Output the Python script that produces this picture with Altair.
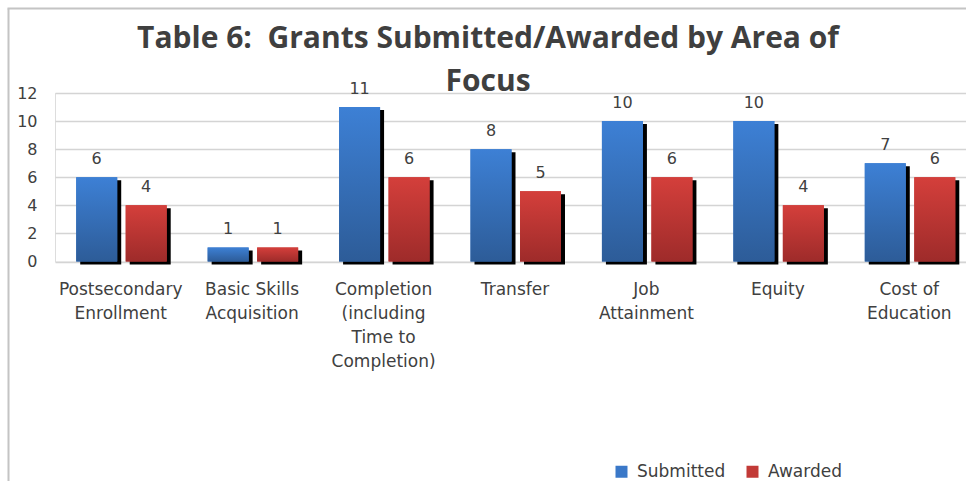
import altair as alt
import pandas as pd

categories = [
    "Postsecondary|Enrollment",
    "Basic Skills|Acquisition",
    "Completion|(including|Time to|Completion)",
    "Transfer",
    "Job|Attainment",
    "Equity",
    "Cost of|Education",
]
submitted = [6, 1, 11, 8, 10, 10, 7]
awarded = [4, 1, 6, 5, 6, 4, 6]
series_names = ["Submitted", "Awarded"]
y_ticks = [0, 2, 4, 6, 8, 10, 12]
title_lines = ["Table 6:\u00a0 Grants Submitted/Awarded by Area of", "Focus"]

rows = []
for c, s, a in zip(categories, submitted, awarded):
    rows.append({"category": c, "series": "Submitted", "value": s})
    rows.append({"category": c, "series": "Awarded", "value": a})
df = pd.DataFrame(rows)
one = pd.DataFrame({"k": [0]})

TXT = "#404040"
FONT = "DejaVu Sans"
W, H = 911, 168.5
BAR_W = 41

x_enc = alt.X(
    "category:N",
    sort=categories,
    scale=alt.Scale(range=[0, 920], paddingInner=0, paddingOuter=0),
    axis=alt.Axis(
        title=None,
        labelExpr="split(datum.label, '|')",
        labelAngle=0,
        labelFont=FONT,
        labelFontSize=17,
        labelColor=TXT,
        labelLineHeight=24,
        labelPadding=20,
        labelBaseline="top",
        labelOverlap=False,
        labelLimit=200,
        domain=False,
        ticks=False,
        grid=False,
    ),
)
y_enc = alt.Y(
    "value:Q",
    scale=alt.Scale(domain=[0, 12], nice=False),
    axis=alt.Axis(
        title=None,
        values=y_ticks,
        labelFont=FONT,
        labelFontSize=16,
        labelColor=TXT,
        labelPadding=18,
        ticks=False,
        domain=False,
        grid=True,
        gridColor="#d4d4d4",
        gridWidth=1.5,
    ),
)

base = alt.Chart(df).encode(x=x_enc, y=y_enc)

grads = {
    "Submitted": alt.Gradient(
        gradient="linear",
        stops=[alt.GradientStop(color="#3d80d5", offset=0), alt.GradientStop(color="#2d5c98", offset=1)],
        x1=0, x2=0, y1=0, y2=1,
    ),
    "Awarded": alt.Gradient(
        gradient="linear",
        stops=[alt.GradientStop(color="#d43f3b", offset=0), alt.GradientStop(color="#9e2b2a", offset=1)],
        x1=0, x2=0, y1=0, y2=1,
    ),
}
offsets = {"Submitted": -24, "Awarded": 25.5}

layers = []
for s in series_names:
    o = offsets[s]
    sub = base.transform_filter(alt.datum.series == s)
    layers.append(sub.mark_bar(color="black", width=BAR_W, xOffset=o + 4, yOffset=3, y2Offset=0))
    layers.append(
        sub.mark_bar(width=BAR_W, xOffset=o).encode(
            color=alt.Color(
                "series:N",
                scale=alt.Scale(domain=series_names, range=["#3a78c8", "#c23a37"]),
                legend=alt.Legend(
                    title=None,
                    orient="none",
                    direction="horizontal",
                    legendX=558,
                    legendY=370,
                    symbolType="square",
                    symbolSize=144,
                    symbolStrokeWidth=0,
                    labelFont=FONT,
                    labelFontSize=17,
                    labelColor=TXT,
                    labelOffset=7,
                    columnPadding=18,
                ),
            )
        )
    )
    layers.append(sub.mark_bar(color=grads[s], width=BAR_W, xOffset=o))
    layers.append(
        sub.mark_text(xOffset=o, dy=-18, baseline="middle", font=FONT, fontSize=16, color=TXT).encode(
            text="value:Q"
        )
    )

border_left = alt.Chart(one).mark_rule(color="#c4c4c4", strokeWidth=2).encode(
    x=alt.value(-46.5), y=alt.value(-84.5), y2=alt.value(400)
)
border_top = alt.Chart(one).mark_rule(color="#c4c4c4", strokeWidth=2).encode(
    x=alt.value(-47.5), x2=alt.value(W), y=alt.value(-84.5)
)
title_mark = alt.Chart(one).mark_text(
    font="Open Sans", fontSize=30, fontWeight="bold", color="#3f3f3f",
    lineHeight=43, align="center", baseline="alphabetic",
).encode(x=alt.value(433), y=alt.value(-45), text=alt.value(title_lines))

chart = (
    alt.layer(border_left, border_top, title_mark, *layers)
    .properties(
        width=W,
        height=H,
        padding={"left": 55, "top": 93, "right": 0, "bottom": 481 - 93 - H},
        autosize=alt.AutoSizeParams(type="none"),
    )
    .configure_view(strokeWidth=0)
    .configure(background="white")
)

chart.save("out.html", embed_options={"renderer": "svg", "actions": False})
